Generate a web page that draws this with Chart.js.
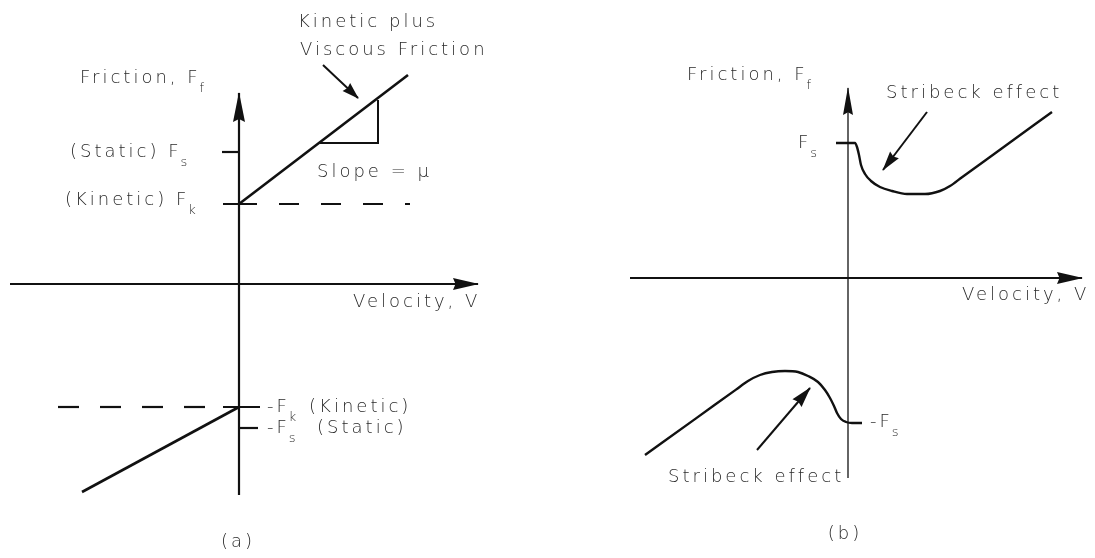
<!DOCTYPE html>
<html>
<head>
<meta charset="utf-8">
<title>Friction models</title>
<script src="https://cdn.jsdelivr.net/npm/chart.js@4.4.1/dist/chart.umd.min.js"></script>
<style>
  html, body { margin: 0; padding: 0; background: #fff; }
  #wrap { position: relative; width: 1095px; height: 558px; overflow: hidden; }
  #chartA { position: absolute; left: 0; top: 0; }
  #chartB { position: absolute; left: 548px; top: 0; }
</style>
</head>
<body>
<div id="wrap">
  <canvas id="chartA" width="548" height="558"></canvas>
  <canvas id="chartB" width="547" height="558"></canvas>
</div>
<script>
// ---- (a) Coulomb + viscous friction (arbitrary units) ----
const axisVelA = [-11.45, 11.95];
const axisForceA = [-10.55, 9.55];
const posBranchVelA = [0, 8.45];
const posBranchForceA = [4.0, 10.45];
const negBranchVelA = [0, -7.85];
const negBranchForceA = [-6.15, -10.4];
const levelsA = [4.0, 6.6, -6.15, -7.2];      // Fk, Fs, -Fk, -Fs
const slopeVelA = [4.05, 6.95, 6.95];
const slopeForceA = [7.05, 7.05, 9.2];

// ---- (b) Stribeck friction curve ----
const axisVelB = [-10.9, 11.7];
const axisForceB = [-10, 9.5];
const upperVelB = [-0.6, 0.35, 0.45, 0.55, 0.65, 0.85, 1.15, 1.6, 2.2, 2.95, 3.85, 4.6, 5.1, 5.7, 7.65, 10.2];
const upperForceB = [6.75, 6.75, 6.55, 6.15, 5.65, 5.2, 4.85, 4.55, 4.35, 4.2, 4.2, 4.35, 4.6, 5.04, 6.45, 8.3];
const lowerVelB = [-10.15, -7.6, -5.6, -5.0, -4.4, -3.8, -3.15, -2.5, -2.0, -1.5, -1.15, -0.9, -0.7, -0.55, -0.35, -0.1, 0.2, 0.7];
const lowerForceB = [-8.85, -7.02, -5.58, -5.15, -4.85, -4.7, -4.65, -4.7, -4.9, -5.2, -5.6, -6.0, -6.4, -6.75, -7.05, -7.2, -7.25, -7.25];

// text notes: [text, subscript, trailing text, x, y, align]
const notesA = [
  ['Kinetic plus', '', '', 2.95, 13.1, 'left'],
  ['Viscous Friction', '', '', 3.05, 11.7, 'left'],
  ['Friction, F', 'f', '', -7.95, 10.3, 'left'],
  ['(Static) F', 's', '', -8.45, 6.6, 'left'],
  ['(Kinetic) F', 'k', '', -8.7, 4.2, 'left'],
  ['Slope = \u03bc', '', '', 3.9, 5.6, 'left'],
  ['Velocity, V', '', '', 5.7, -0.9, 'left'],
  ['-F', 'k', ' (Kinetic)', 1.4, -6.15, 'left'],
  ['-F', 's', '  (Static)', 1.4, -7.2, 'left'],
  ['(a)', '', '', -0.05, -12.9, 'center']
];
const notesB = [
  ['Friction, F', 'f', '', -8.05, 10.15, 'left'],
  ['Stribeck effect', '', '', 1.9, 9.25, 'left'],
  ['F', 's', '', -2.5, 6.75, 'left'],
  ['Velocity, V', '', '', 5.7, -0.85, 'left'],
  ['Stribeck effect', '', '', -9, -9.95, 'left'],
  ['-F', 's', '', 1.1, -7.2, 'left'],
  ['(b)', '', '', -0.15, -12.8, 'center']
];

const INK = '#111';
const FONT = '"DejaVu Sans", "Liberation Sans", sans-serif';

function pts(xs, ys) {
  return xs.map((x, i) => ({ x: x, y: ys[i] }));
}

function line(xs, ys, extra) {
  return Object.assign({
    data: pts(xs, ys),
    showLine: true,
    borderColor: INK,
    borderWidth: 2.2,
    pointRadius: 0,
    pointHoverRadius: 0,
    fill: false,
    tension: 0
  }, extra || {});
}

// filled arrow heads at the last point of a dataset
const arrowPlugin = {
  id: 'arrowHeads',
  afterDatasetsDraw(chart) {
    const ctx = chart.ctx;
    chart.data.datasets.forEach((ds, i) => {
      if (!ds.arrow) return;
      const p = chart.getDatasetMeta(i).data;
      const tip = p[p.length - 1], prev = p[p.length - 2];
      const ang = Math.atan2(tip.y - prev.y, tip.x - prev.x);
      const len = ds.arrow[0], half = ds.arrow[1] / 2;
      ctx.save();
      ctx.translate(tip.x, tip.y);
      ctx.rotate(ang);
      ctx.beginPath();
      ctx.moveTo(1, 0);
      ctx.lineTo(-len, -half);
      ctx.lineTo(-len * 0.9, 0);
      ctx.lineTo(-len, half);
      ctx.closePath();
      ctx.fillStyle = INK;
      ctx.fill();
      ctx.restore();
    });
  }
};

function notesPlugin(notes) {
  return {
    id: 'notes',
    afterDraw(chart) {
      const ctx = chart.ctx;
      const sx = chart.scales.x, sy = chart.scales.y;
      ctx.save();
      ctx.fillStyle = '#2a2a2a';
      ctx.textBaseline = 'middle';
      ctx.letterSpacing = '3px';
      notes.forEach(n => {
        let x = sx.getPixelForValue(n[3]);
        const y = sy.getPixelForValue(n[4]);
        ctx.font = '300 18px ' + FONT;
        const w = ctx.measureText(n[0]).width;
        if (n[5] === 'center') x -= w / 2;
        ctx.textAlign = 'left';
        ctx.fillText(n[0], x, y);
        x += w;
        if (n[1]) {
          ctx.font = '300 13px ' + FONT;
          ctx.fillText(n[1], x - 1, y + 11);
          x += ctx.measureText(n[1]).width;
        }
        if (n[2]) {
          ctx.font = '300 18px ' + FONT;
          ctx.fillText(n[2], x, y);
        }
      });
      ctx.restore();
    }
  };
}

function makeChart(id, datasets, xr, yr, notes) {
  return new Chart(document.getElementById(id), {
    type: 'scatter',
    data: { datasets: datasets },
    options: {
      responsive: false,
      animation: false,
      events: [],
      layout: { padding: 0 },
      scales: {
        x: { type: 'linear', min: xr[0], max: xr[1], display: false },
        y: { type: 'linear', min: yr[0], max: yr[1], display: false }
      },
      plugins: {
        legend: { display: false },
        tooltip: { enabled: false }
      }
    },
    plugins: [arrowPlugin, notesPlugin(notes)]
  });
}

// panel (a)
var chartA = makeChart('chartA', [
  line(axisVelA, [0, 0], { borderWidth: 2.2, arrow: [25, 12] }),
  line([0, 0], axisForceA, { borderWidth: 2.2, arrow: [29, 12] }),
  line(posBranchVelA, posBranchForceA, { borderWidth: 2.6 }),
  line(negBranchVelA, negBranchForceA, { borderWidth: 2.6 }),
  line([-0.8, 0.9], [levelsA[0], levelsA[0]]),
  line([0.9, 8.55], [levelsA[0], levelsA[0]], { borderDash: [20, 22], borderDashOffset: 20 }),
  line([-0.85, 0], [levelsA[1], levelsA[1]]),
  line([-9.05, -0.8], [levelsA[2], levelsA[2]], { borderDash: [21, 21] }),
  line([-0.8, 1.05], [levelsA[2], levelsA[2]]),
  line([0, 0.95], [levelsA[3], levelsA[3]]),
  line(slopeVelA, slopeForceA, { borderWidth: 2 }),
  line([4.2, 5.95], [10.95, 9.3], { borderWidth: 2, arrow: [16, 11] })
], [-11.95, 15.45], [-13.7, 14.2], notesA);

// panel (b)
var chartB = makeChart('chartB', [
  line(axisVelB, [0, 0], { borderWidth: 2.2, arrow: [25, 12] }),
  line([0, 0], axisForceB, { borderWidth: 1.3, arrow: [27, 10] }),
  line(upperVelB, upperForceB, { borderWidth: 2.4, cubicInterpolationMode: 'monotone' }),
  line(lowerVelB, lowerForceB, { borderWidth: 2.4, cubicInterpolationMode: 'monotone' }),
  line([3.95, 1.75], [8.3, 5.4], { borderWidth: 2, arrow: [19, 11] }),
  line([-4.55, -1.9], [-8.6, -5.5], { borderWidth: 2, arrow: [20, 12] })
], [-15, 12.35], [-14.0, 13.9], notesB);
</script>
</body>
</html>
